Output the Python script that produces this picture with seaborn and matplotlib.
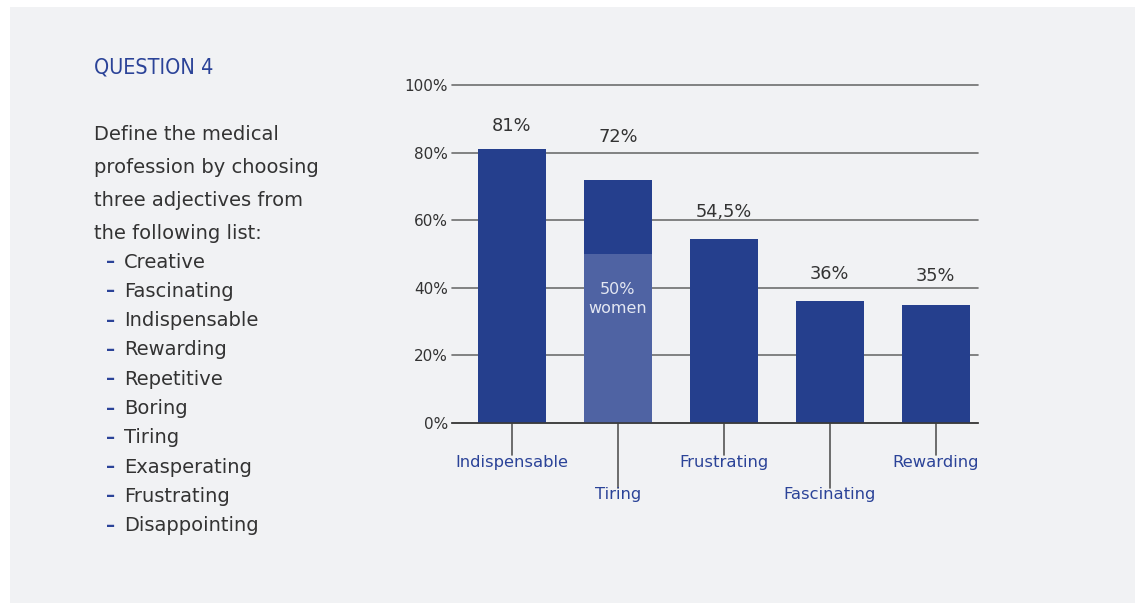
import matplotlib
matplotlib.use("Agg")
import matplotlib.pyplot as plt
import matplotlib.transforms as mtransforms
from matplotlib.patches import Rectangle
import seaborn as sns
import numpy as np

# ---- data ----
categories = ["Indispensable", "Tiring", "Frustrating", "Fascinating", "Rewarding"]
values = [81, 72, 54.5, 36, 35]
value_labels = ["81%", "72%", "54,5%", "36%", "35%"]
women_values = [0, 50, 0, 0, 0]
women_label = "50%\nwomen"
yticks = [0, 20, 40, 60, 80, 100]
ytick_labels = ["0%", "20%", "40%", "60%", "80%", "100%"]
title = "QUESTION 4"
intro_lines = ["Define the medical", "profession by choosing", "three adjectives from", "the following list:"]
list_items = ["Creative", "Fascinating", "Indispensable", "Rewarding", "Repetitive",
              "Boring", "Tiring", "Exasperating", "Frustrating", "Disappointing"]

# ---- style ----
sns.set_theme(style="white")
plt.rcParams["font.family"] = ["DejaVu Sans"]

W, H = 1135, 603
DARK = "#253F8D"
LIGHT = "#4F63A3"
BLUE_TXT = "#2B4398"
TXT = "#333333"
BG = "#F1F2F4"

fig = plt.figure(figsize=(W / 100, H / 100), dpi=100)
fig.patch.set_facecolor("white")
fig.patches.append(Rectangle((10 / W, 0), 1 - 10 / W, 1 - 7 / H, transform=fig.transFigure,
                             facecolor=BG, edgecolor="none", zorder=-10))

ax = fig.add_axes([452 / W, 1 - 423 / H, (978 - 452) / W, (423 - 85) / H])
ax.set_facecolor("none")

sns.barplot(x=categories, y=values, color=DARK, saturation=1, width=0.64, ax=ax,
            zorder=3, edgecolor="none", linewidth=0)
sns.barplot(x=categories, y=women_values, color=LIGHT, saturation=1, width=0.64, ax=ax,
            zorder=4, edgecolor="none", linewidth=0)

ax.set_xlim(-0.566, 4.40)
ax.set_ylim(0, 100)
ax.set_yticks(yticks)
ax.set_yticklabels(ytick_labels, fontsize=11, color=TXT)
ax.tick_params(axis="y", length=0, pad=3)
ax.tick_params(axis="x", length=0, labelbottom=False)
ax.set_xlabel("")
ax.set_ylabel("")
ax.grid(axis="y", color="#6E6E6E", linewidth=1.2, zorder=0)
for gl in ax.get_ygridlines():
    gl.set_clip_on(False)
ax.set_axisbelow(True)
for s in ["top", "right", "left"]:
    ax.spines[s].set_visible(False)
ax.spines["bottom"].set_color("#3A3A3A")
ax.spines["bottom"].set_linewidth(1.2)
ax.spines["bottom"].set_zorder(5)

# value labels above bars
pads = [7, 12.5, 8, 8, 8.5]
for i, (v, lab) in enumerate(zip(values, value_labels)):
    ax.text(i, v + pads[i], lab, ha="center", va="center", fontsize=12.8, color=TXT)

# inner label for women
wi = int(np.argmax(women_values))
ax.text(wi, women_values[wi] - 13.4, women_label, ha="center", va="center",
        fontsize=11.5, color="#E3E7F2", linespacing=1.3, zorder=6)

# x labels with leader lines, alternating depth
trans = mtransforms.blended_transform_factory(ax.transData, ax.transAxes)
ah = 338.0
for i, c in enumerate(categories):
    deep = i % 2 == 1
    line_end = -(65 if deep else 32) / ah
    lab_y = -(72 if deep else 40) / ah
    ax.plot([i, i], [0, line_end], transform=trans, color="#555555", lw=1.2, clip_on=False)
    ax.text(i, lab_y, c, transform=trans, ha="center", va="center", fontsize=11.8, color=BLUE_TXT)

# left text block
def fx(px):
    return px / W

def fy(py):
    return 1 - py / H

fig.text(fx(94), fy(68), title, ha="left", va="center", fontsize=15.5, color=BLUE_TXT,
         fontstretch="condensed")
for k, line in enumerate(intro_lines):
    fig.text(fx(94), fy(135 + 32.7 * k), line, ha="left", va="center", fontsize=14, color=TXT)
for k, item in enumerate(list_items):
    y = fy(262 + 29.3 * k)
    fig.text(fx(106), y, "–", ha="left", va="center", fontsize=13, color=BLUE_TXT, fontweight="bold")
    fig.text(fx(124), y, item, ha="left", va="center", fontsize=14, color=TXT)

fig.savefig("out.png", dpi=100, facecolor=fig.get_facecolor())
